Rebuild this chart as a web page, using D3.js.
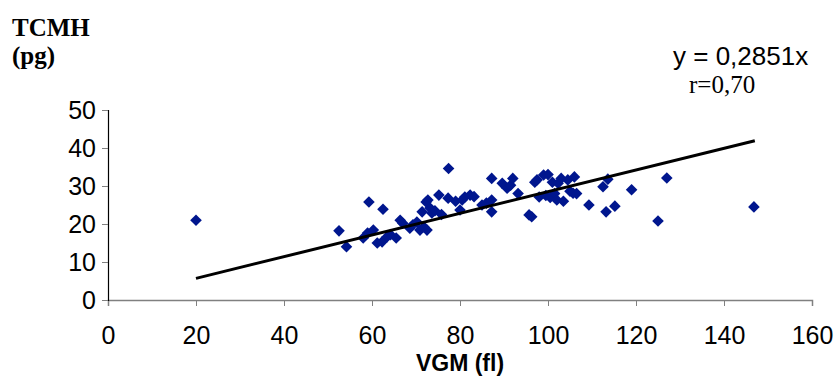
<!DOCTYPE html>
<html>
<head>
<meta charset="utf-8">
<script src="https://cdn.jsdelivr.net/npm/d3@7"></script>
<style>
  body { margin: 0; background: #fff; }
  svg { display: block; }
</style>
</head>
<body>
<svg id="chart" width="838" height="388"></svg>
<script>
// VGM (fl) against TCMH (pg)
const vgm = [20, 52.5, 54.2, 58, 59.3, 59, 60.3, 61.2, 62.3, 62.5, 63.4, 64.2, 65.5, 66.4,
  67, 68.6, 69.3, 70.2, 70.9, 71.4, 71.8, 72.3, 72.5, 72.7, 73.2, 73.6, 74.3, 75.2, 75.8,
  77.3, 77.4, 79, 80, 80.5, 81.1, 82.3, 83.2, 85, 86, 87.2, 87.2, 87.2, 89.6, 90.7, 91.5,
  92, 93.2, 95.7, 96.3, 97, 97.5, 98, 99, 99.5, 100, 100.5, 101, 101.5, 102, 102.3, 103,
  103.5, 104.5, 105, 105.7, 106, 106.5, 109.3, 112.5, 113.2, 113.6, 115.2, 119, 125, 127, 146.8];
const tcmh = [21, 18.2, 14, 16.3, 25.8, 17.6, 18.4, 15, 15.3, 23.9, 16.6, 17.2, 16.3, 21,
  20.2, 18.9, 19.8, 20.5, 18.4, 23.2, 19.2, 25.8, 18.4, 26.3, 24.2, 22.9, 23.5, 27.6, 22.5,
  26.8, 34.6, 26, 23.7, 26.3, 27.1, 27.6, 27.2, 25, 25.5, 32, 26.3, 23.2, 30.7, 29.4, 30.2,
  32, 28, 22.4, 21.9, 31, 31.6, 27.1, 32.9, 27.5, 33, 27, 31, 28, 26.3, 30.7, 32,
  26, 31.6, 28.6, 28.1, 32.4, 28, 25, 29.8, 23.2, 31.8, 24.7, 29, 20.8, 32.1, 24.5];
const slope = 0.2851;
const trendX = [20, 147];
const xTicks = [0, 20, 40, 60, 80, 100, 120, 140, 160];
const yTicks = [0, 10, 20, 30, 40, 50];

const svg = d3.select("#chart");
const x = d3.scaleLinear().domain([0, 160]).range([108, 812]);
const y = d3.scaleLinear().domain([0, 50]).range([300, 110]);

// axes
const xAxis = svg.append("g").attr("transform", "translate(0,300)")
  .call(d3.axisBottom(x).tickValues(xTicks).tickSize(6).tickPadding(20));
xAxis.select(".domain").attr("stroke", "#808080").attr("stroke-width", 1.5);
xAxis.selectAll(".tick line").attr("stroke", "#808080");
xAxis.selectAll("text").attr("font-family", "Liberation Sans, Arial, sans-serif")
  .attr("font-size", 25).attr("fill", "#000");

const yAxis = svg.append("g").attr("transform", "translate(108,0)")
  .call(d3.axisLeft(y).tickValues(yTicks).tickSize(6).tickPadding(6));
yAxis.select(".domain").attr("stroke", "#000").attr("stroke-width", 1.2);
yAxis.selectAll(".tick line").attr("stroke", "#808080");
yAxis.selectAll("text").attr("font-family", "Liberation Sans, Arial, sans-serif")
  .attr("font-size", 25).attr("fill", "#000");
svg.selectAll(".domain").attr("fill", "none");

// points
const pts = vgm.map((v, i) => [v, tcmh[i]]);
const r = 5.8;
svg.append("g").selectAll("path").data(pts).join("path")
  .attr("d", d => {
    const cx = x(d[0]), cy = y(d[1]);
    return `M${cx},${cy - r}L${cx + r},${cy}L${cx},${cy + r}L${cx - r},${cy}Z`;
  })
  .attr("fill", "#00168e");

// trend line
svg.append("line")
  .attr("x1", x(trendX[0])).attr("y1", y(slope * trendX[0]))
  .attr("x2", x(trendX[1])).attr("y2", y(slope * trendX[1]))
  .attr("stroke", "#000").attr("stroke-width", 3);

// labels
const serif = "Liberation Serif, Times New Roman, serif";
const sans = "Liberation Sans, Arial, sans-serif";
svg.append("text").attr("x", 12).attr("y", 36)
  .attr("font-family", serif).attr("font-weight", "bold")
  .attr("font-size", 25).text("TCMH");
svg.append("text").attr("x", 12).attr("y", 64)
  .attr("font-family", serif).attr("font-weight", "bold")
  .attr("font-size", 25).text("(pg)");
svg.append("text").attr("x", 460).attr("y", 371).attr("text-anchor", "middle")
  .attr("font-family", sans).attr("font-weight", "bold")
  .attr("font-size", 23).text("VGM (fl)");
svg.append("text").attr("x", 673).attr("y", 65)
  .attr("font-family", sans)
  .attr("font-size", 26).text("y = 0,2851x");
svg.append("text").attr("x", 689).attr("y", 93)
  .attr("font-family", serif)
  .attr("font-size", 25).text("r=0,70");
</script>
</body>
</html>
